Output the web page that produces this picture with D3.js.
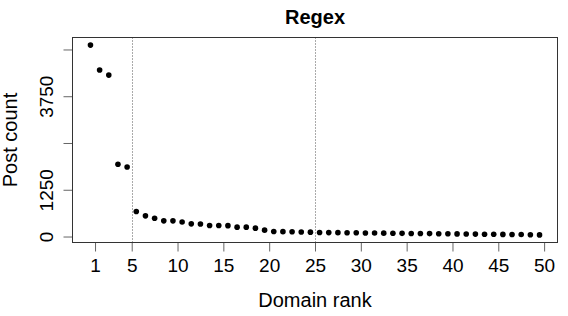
<!DOCTYPE html>
<html>
<head>
<meta charset="utf-8">
<script src="https://cdn.jsdelivr.net/npm/d3@7"></script>
<style>
  body { margin: 0; background: #fff; }
  text { font-family: "Liberation Sans", Arial, sans-serif; fill: #000; }
</style>
</head>
<body>
<script>
// post counts per domain, sorted by rank
const ranks = d3.range(1, 51);
const postCounts = [5117, 4450, 4315, 1930, 1860, 668, 552, 490, 419, 419,
                    390, 339, 335, 294, 294, 290, 250, 250, 223, 170,
                    134, 130, 128, 122, 117, 108, 105, 104, 102, 100,
                    95, 92, 90, 88, 85, 82, 80, 78, 75, 72,
                    70, 68, 65, 62, 60, 57, 55, 52, 48, 43];
const xTicks = [1, 5, 10, 15, 20, 25, 30, 35, 40, 45, 50];
const yTicks = [0, 1250, 2500, 3750, 5000];
const yTickLabels = ["0", "1250", "", "3750", ""];
const cutoffs = [5, 25];

const width = 568, height = 316;
const plotLeft = 72.5, plotRight = 557.5, plotTop = 37.5, plotBottom = 242.5;

const svg = d3.select('body')
    .append('svg')
    .attr('width', width)
    .attr('height', height);

// R style 4% padding around the data
const xPad = 0.04 * (d3.max(ranks) - d3.min(ranks));
const x = d3.scaleLinear()
    .domain([d3.min(ranks) - xPad, d3.max(ranks) + xPad])
    .range([plotLeft, plotRight]);
const yPad = 0.04 * (d3.max(postCounts) - d3.min(postCounts));
const y = d3.scaleLinear()
    .domain([d3.min(postCounts) - yPad, d3.max(postCounts) + yPad])
    .range([plotBottom, plotTop]);

// the tick labels sit half a step after the points
const xAxisScale = x.copy().domain(x.domain().map(d => d - 0.5));

svg.append('g')
    .attr('transform', 'translate(0,' + plotBottom + ')')
    .call(d3.axisBottom(xAxisScale).tickValues(xTicks).tickSize(9).tickPadding(7).tickSizeOuter(0))
    .call(g => g.select('.domain').remove())
    .call(g => g.selectAll('line').attr('stroke', '#666'))
    .call(g => g.selectAll('text').attr('font-size', 19).attr('font-family', null).attr('fill', '#000'));

const yAxis = svg.append('g')
    .attr('transform', 'translate(' + plotLeft + ',0)')
    .call(d3.axisLeft(y).tickValues(yTicks).tickSize(9).tickFormat((d, i) => yTickLabels[i]))
    .call(g => g.select('.domain').remove())
    .call(g => g.selectAll('line').attr('stroke', '#666'));
yAxis.selectAll('text')
    .attr('font-size', 19)
    .attr('font-family', null)
    .attr('fill', '#000')
    .attr('x', null).attr('dy', null)
    .attr('text-anchor', 'middle')
    .attr('transform', 'translate(-20,0) rotate(-90)');

// cutoff lines
svg.selectAll('line.cut')
    .data(cutoffs)
    .enter()
    .append('line')
    .attr('class', 'cut')
    .attr('x1', d => Math.round(xAxisScale(d)) + 0.5)
    .attr('x2', d => Math.round(xAxisScale(d)) + 0.5)
    .attr('y1', plotTop)
    .attr('y2', plotBottom)
    .attr('stroke', '#555')
    .attr('stroke-dasharray', '1,2');

svg.append('rect')
    .attr('x', plotLeft).attr('y', plotTop)
    .attr('width', plotRight - plotLeft).attr('height', plotBottom - plotTop)
    .attr('fill', 'none')
    .attr('stroke', '#333');

svg.selectAll('circle')
    .data(ranks)
    .enter()
    .append('circle')
    .attr('cx', d => x(d))
    .attr('cy', (d, i) => y(postCounts[i]))
    .attr('r', 2.8)
    .attr('fill', '#000');

svg.append('text')
    .attr('x', (plotLeft + plotRight) / 2)
    .attr('y', 24)
    .attr('text-anchor', 'middle')
    .attr('font-size', 20)
    .attr('font-weight', 'bold')
    .text('Regex');

svg.append('text')
    .attr('x', (plotLeft + plotRight) / 2)
    .attr('y', 307)
    .attr('text-anchor', 'middle')
    .attr('font-size', 20)
    .text('Domain rank');

svg.append('text')
    .attr('transform', 'translate(17,' + (plotTop + plotBottom) / 2 + ') rotate(-90)')
    .attr('text-anchor', 'middle')
    .attr('font-size', 20)
    .text('Post count');
</script>
</body>
</html>
